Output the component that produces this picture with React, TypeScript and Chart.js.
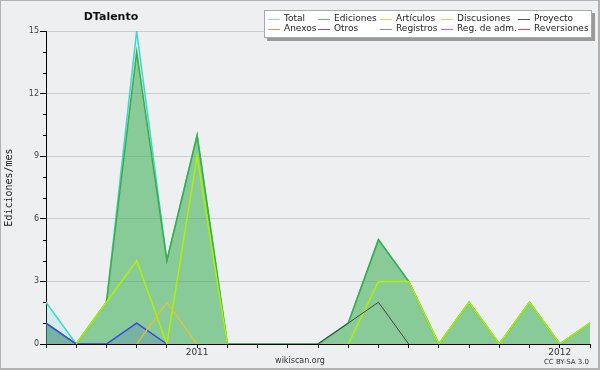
import React, { useEffect, useRef } from 'react';
import { Chart, registerables } from 'chart.js';

Chart.register(...registerables);

// ---- data ----
const months = [
  '2010-08', '2010-09', '2010-10', '2010-11', '2010-12',
  '2011-01', '2011-02', '2011-03', '2011-04', '2011-05', '2011-06',
  '2011-07', '2011-08', '2011-09', '2011-10', '2011-11', '2011-12',
  '2012-01', '2012-02',
];
const xTickLabels = ['', '', '', '', '', '2011', '', '', '', '', '', '', '', '', '', '', '', '2012', ''];
const totalValues = [2, 0, 2, 15, 4, 10, 0, 0, 0, 0, 1, 5, 3, 0, 2, 0, 2, 0, 1];
const edicionesValues = [1, 0, 2, 14, 4, 10, 0, 0, 0, 0, 1, 5, 3, 0, 2, 0, 2, 0, 1];
const articulosValues = [null, 0, 2, 4, 0, 9, 0, null, null, null, 0, 3, 3, 0, 2, 0, 2, 0, 1];
const discusionesValues = [null, null, null, 0, 2, 0, null, null, null, null, null, null, null, null, null, null, null, null, null];
const proyectoValues = [null, null, null, null, null, null, null, null, null, 0, 1, 2, 0, null, null, null, null, null, null];
const registrosValues = [1, 0, 0, 1, 0, null, null, null, null, null, null, null, null, null, null, null, null, null, null];
const yMin = 0;
const yMax = 15;
const yStep = 3;
const legendLabels = ['Total', 'Ediciones', 'Artículos', 'Discusiones', 'Proyecto', 'Anexos', 'Otros', 'Registros', 'Reg. de adm.', 'Reversiones'];
const chartTitle = 'DTalento';
const yTitle = 'Ediciones/mes';
const footerCenter = 'wikiscan.org';
const footerRight = 'CC BY-SA 3.0';

// ---- styles ----
const legendColors = ['#7fdede', '#5cc46a', '#c6ec3a', '#ffc933', '#555555', '#ff8a4a', '#9a3be8', '#7a86ff', '#dd4ef0', '#ff3a3a'];
const BG = '#eeeff1';
const FONT = 'DejaVu Sans';

const backgroundPlugin = {
  id: 'bgPlugin',
  beforeDraw(chart: any) {
    const ctx = chart.ctx;
    ctx.save();
    ctx.fillStyle = BG;
    ctx.fillRect(0, 0, chart.width, chart.height);
    ctx.strokeStyle = '#b2b2b2';
    ctx.lineWidth = 2;
    ctx.strokeRect(0, 0, chart.width - 1, chart.height - 1);
    ctx.restore();
  },
};

const decorPlugin = {
  id: 'decorPlugin',
  afterDraw(chart: any) {
    const ctx = chart.ctx;
    const y = chart.scales.y;
    const left = chart.chartArea.left;
    ctx.save();
    // minor ticks
    ctx.strokeStyle = '#000';
    ctx.lineWidth = 1;
    for (let v = yMin; v <= yMax; v++) {
      if (v % yStep === 0) continue;
      const py = Math.round(y.getPixelForValue(v)) + 0.5;
      ctx.beginPath();
      ctx.moveTo(left - 3, py);
      ctx.lineTo(left, py);
      ctx.stroke();
    }
    // title
    ctx.fillStyle = '#111';
    ctx.font = `bold 11px "${FONT}"`;
    ctx.textAlign = 'center';
    ctx.textBaseline = 'middle';
    ctx.fillText(chartTitle, 111, 17);
    // legend box
    const bx = 264, by = 10, bw = 328, bh = 28;
    ctx.fillStyle = '#9a9a9a';
    ctx.fillRect(bx + 3, by + 3, bw, bh);
    ctx.fillStyle = '#ffffff';
    ctx.fillRect(bx, by, bw, bh);
    ctx.strokeStyle = '#a8a8a8';
    ctx.lineWidth = 1;
    ctx.strokeRect(bx + 0.5, by + 0.5, bw - 1, bh - 1);
    const cols = [268, 318, 380, 441, 518];
    const rows = [19, 29];
    ctx.font = `9px "${FONT}"`;
    ctx.textAlign = 'left';
    ctx.textBaseline = 'middle';
    legendLabels.forEach((lab, i) => {
      const cx = cols[i % 5];
      const cy = rows[Math.floor(i / 5)];
      ctx.strokeStyle = legendColors[i];
      ctx.lineWidth = 1;
      ctx.beginPath();
      ctx.moveTo(cx, cy + 0.5);
      ctx.lineTo(cx + 12, cy + 0.5);
      ctx.stroke();
      ctx.fillStyle = '#222';
      ctx.fillText(lab, cx + 16, cy);
    });
    // footer
    ctx.fillStyle = '#333';
    ctx.font = `8px "${FONT}"`;
    ctx.textAlign = 'center';
    ctx.fillText(footerCenter, 300, 361);
    ctx.font = `7px "${FONT}"`;
    ctx.textAlign = 'right';
    ctx.fillText(footerRight, 589, 362);
    ctx.restore();
  },
};

export default function App() {
  const ref = useRef<HTMLCanvasElement | null>(null);
  useEffect(() => {
    if (!ref.current) return;
    const chart = new Chart(ref.current, {
      type: 'line',
      data: {
        labels: months,
        datasets: [
          {
            label: legendLabels[0], data: totalValues, borderColor: '#3fd6cc', borderWidth: 1.5,
            backgroundColor: 'rgba(64,224,208,0.15)', fill: 'origin', order: 10,
          },
          {
            label: legendLabels[1], data: edicionesValues, borderColor: '#3aad45', borderWidth: 1.5,
            backgroundColor: 'rgba(60,170,70,0.5)', fill: 'origin', order: 9,
          },
          {
            label: legendLabels[7], data: registrosValues, borderColor: '#3448e0', borderWidth: 1.5,
            backgroundColor: 'rgba(60,80,200,0.2)', fill: 'origin', order: 8,
          },
          {
            label: legendLabels[2], data: articulosValues, borderColor: '#b0f000', borderWidth: 1.5,
            fill: false, order: 7,
          },
          {
            label: legendLabels[3], data: discusionesValues, borderColor: '#f0c419', borderWidth: 1.2,
            fill: false, order: 6,
          },
          {
            label: legendLabels[4], data: proyectoValues, borderColor: '#444444', borderWidth: 1,
            fill: false, order: 5,
          },
        ] as any,
      },
      options: {
        animation: false,
        responsive: false,
        maintainAspectRatio: false,
        layout: { padding: { top: 31, right: 10, left: 0, bottom: 0 } },
        elements: { point: { radius: 0 }, line: { tension: 0 } },
        plugins: { legend: { display: false }, tooltip: { enabled: false }, title: { display: false } },
        scales: {
          x: {
            type: 'category',
            offset: false,
            z: 1,
            grid: { drawOnChartArea: false, drawTicks: true, tickLength: 4, tickColor: '#000' },
            border: { color: '#000', width: 1 },
            ticks: {
              autoSkip: false, maxRotation: 0, minRotation: 0, padding: -1, color: '#333',
              font: { family: FONT, size: 9 },
              callback: (_v: any, i: number) => xTickLabels[i],
            },
            afterFit: (s: any) => { s.height = 26; },
          },
          y: {
            min: yMin, max: yMax,
            ticks: { stepSize: yStep, color: '#444', font: { family: FONT, size: 8 }, padding: 1 },
            grid: { color: '#cccccc', tickColor: '#000', tickLength: 6 },
            border: { color: '#000', width: 1 },
            title: {
              display: true, text: yTitle, color: '#222',
              font: { family: 'DejaVu Sans Mono', size: 10 }, padding: { top: 3.5, bottom: 0 },
            },
            afterFit: (s: any) => { s.width = 46; },
          },
        },
      } as any,
      plugins: [backgroundPlugin, decorPlugin],
    });
    return () => chart.destroy();
  }, []);
  return (
    <div style={{ position: 'absolute', left: 0, top: 0 }}>
      <canvas ref={ref} width={600} height={370} style={{ display: 'block', width: 600, height: 370 }} />
    </div>
  );
}
